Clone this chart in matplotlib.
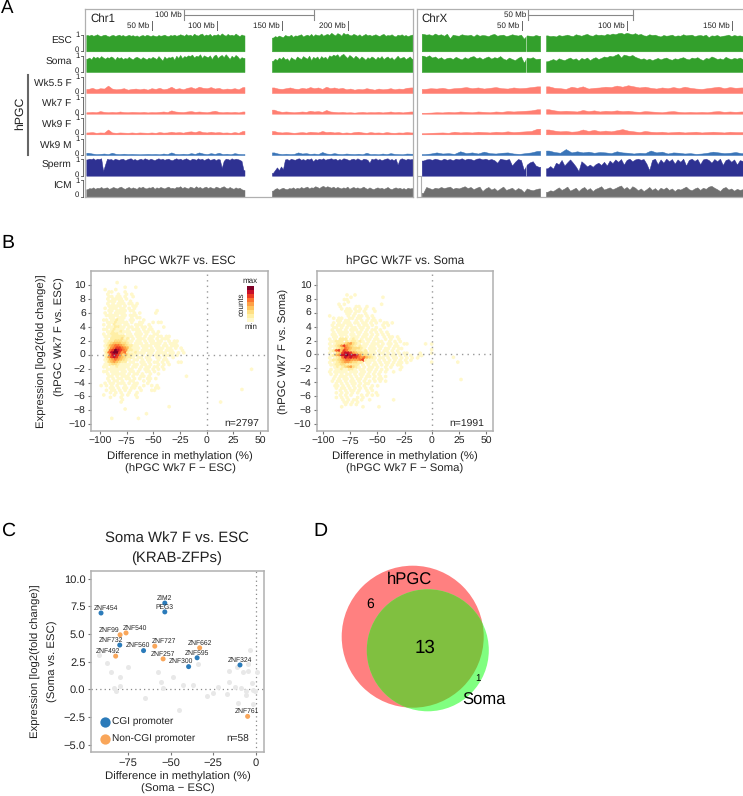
import numpy as np
import matplotlib
matplotlib.use('Agg')
import matplotlib.pyplot as plt
from matplotlib.colors import ListedColormap
from matplotlib.patches import Circle

plt.rcParams['font.family'] = ['Liberation Sans', 'DejaVu Sans']
plt.rcParams['text.hinting'] = 'no_hinting'
W, H = 743, 796
TXT = '#222222'
GR = '#B0B0B0'

# ---------- Panel A data (methylation level, percent, per genome bin)
TRACK_NAMES = ['ESC', 'Soma', 'Wk5.5 F', 'Wk7 F', 'Wk9 F', 'Wk9 M', 'Sperm', 'ICM']
TRACK_COLORS = ['#33A02C', '#33A02C', '#FF7F72', '#FF7F72', '#FF7F72', '#3A75B8', '#2E3192', '#707070']

ESC_1L = [88,85,90,84,87,92,85,83,88,90,84,80,86,89,83,86,90,84,88,82,85,89,84,87,82,86,79,85,88,83,89,86,82,87,84,81,88,84,86,90,
          84,82,88,85,90,84,87,92,88,84,93,86,90,83,95,88,85,92,96,84,91,87,94,82,90,88,93,85,97,89,84,94,87,90,85,96,88,82,91,86]
ESC_1R = [74,82,78,85,80,76,88,84,82,90,78,86,84,88,92,80,86,90,84,94,82,92,88,86,96,84,90,94,88,100,92,86,98,94,84,100,92,96,88,86,
          94,90,84,92,82,88,94,86,90,84,88,92,86,83,90,94,84,88,86,92,84,80,90,86,92,84,88,82,86,90]
ESC_XL = [94,90,92,86,96,88,92,84,95,70,90,86,84,92,88,86,90,80,92,84,88,86,82,90,94,84,88,90,82,86,92,88,85,90,68,86,84,82,88,84]
ESC_XR = [86,82,84,80,88,84,86,90,85,82,92,88,84,90,94,86,84,92,88,90,86,94,90,96,92,98,100,94,100,96,92,98,90,94,86,84,92,88,90,84,
          80,88,84,86,90,82,86,84,92,86,88,90,82,86,88,84,90,76,86,84,88,80,84,86,90,82,88,84,86,82]
SOMA_1L = [72,78,68,84,76,82,74,86,78,72,80,76,84,78,66,82,74,80,70,76,72,82,74,68,78,82,76,70,80,74,68,78,72,82,76,70,86,74,62,84,
           72,80,78,84,66,88,76,92,74,86,82,90,86,94,78,88,84,96,76,90,84,80,90,70,88,94,76,86,92,80,96,84,70,88,78,92,84,70,80,76]
SOMA_1R = [60,72,64,78,70,82,68,74,60,80,72,66,84,76,70,86,78,72,88,64,82,74,84,68,86,76,82,70,90,84,94,88,96,80,92,98,86,76,92,84,
           74,88,80,70,84,76,66,80,72,84,78,68,82,74,86,70,78,84,72,80,66,76,88,74,78,82,70,76,84,72]
SOMA_XL = [88,82,90,78,84,72,80,68,76,78,70,82,74,68,80,72,82,86,74,80,70,78,84,72,80,76,86,72,66,78,70,64,76,84,50,78,74,80,70,72]
SOMA_XR = [58,64,70,62,74,68,64,72,78,68,74,62,76,70,78,64,74,80,70,76,84,80,88,84,92,98,78,94,90,86,92,82,76,70,74,66,72,64,70,76,
           68,74,78,70,66,74,70,76,80,72,68,78,74,80,70,64,76,72,84,78,70,74,68,82,74,70,76,72,78,70]
W55_1L = [22,28,20,26,24,40,24,20,22,26,18,22,24,20,24,18,26,22,28,20,24,34,22,26,20,28,32,24,34,28,26,32,24,28,20,24,22,26,20,32]
W55_1R = [30,24,22,26,30,24,22,28,24,32,26,30,22,34,26,30,24,28,20,24,18,22,20,26,22,18,24,20,22,26,20,24,22,28,30]
W55_XL = [22,26,24,28,22,26,28,32,26,30,24,28,32,26,24,30,26,28,32,36]
W55_XR = [36,28,26,22,34,28,36,24,28,30,34,32,40,34,42,36,30,34,28,24,30,26,32,26,34,28,24,22,26,30,34,26,32,28,30]
W7_1L = [8,10,8,14,10,8,10,8,12,9,8,10,9,8,10,7,9,8,10,12,9,18,12,10,9,12,14,10,12,10,8,12,16,10,8,10,8,10,7,12]
W7_1R = [22,14,10,12,10,8,10,12,10,16,12,14,10,20,12,10,8,10,7,8,6,8,10,7,9,8,10,7,9,12,8,10,7,10,12]
W7_XL = [5,6,8,7,10,8,12,10,8,12,10,8,12,10,14,12,14,16,18,24]
W7_XR = [24,18,14,16,14,12,20,14,18,12,16,14,18,14,16,12,10,14,12,10,8,12,14,10,8,10,8,10,8,12,14,10,12,10,12]
W9_1L = [10,12,8,10,9,26,10,8,10,9,8,10,8,10,9,8,10,8,12,9,10,14,10,12,9,14,16,12,18,12,10,14,10,12,9,10,8,12,8,18]
W9_1R = [18,12,10,12,10,8,10,12,9,14,12,10,18,12,14,10,12,8,10,8,12,14,10,8,12,9,10,8,12,9,8,10,9,12,10]
W9_XL = [6,8,9,10,8,14,10,12,10,14,12,10,14,12,16,12,14,16,18,30]
W9_XR = [26,20,16,18,14,16,26,18,24,16,20,16,22,28,20,16,12,18,14,12,14,10,12,14,10,12,14,10,12,14,12,10,14,12,12]
M9_1L = [12,8,5,6,8,5,12,6,5,7,5,6,5,4,5,6,5,6,4,8,5,14,6,5,7,5,10,6,14,8,5,10,6,12,5,7,4,10,6,5]
M9_1R = [14,8,5,7,5,6,14,8,10,6,8,5,16,8,6,10,6,5,8,6,5,7,4,12,5,6,4,8,5,10,6,5,4,8,7]
M9_XL = [5,8,14,8,10,6,20,10,14,8,18,10,8,12,14,8,6,10,14,22]
M9_XR = [24,16,12,32,14,20,14,18,12,16,14,10,20,14,12,8,12,10,24,14,18,8,14,12,8,10,6,8,12,18,14,10,12,16,10]
SP_1L = [88,92,90,94,86,92,90,94,25,60,92,88,90,84,92,88,86,90,92,84,88,92,94,86,90,84,88,92,86,94,90,86,92,88,84,90,94,88,92,86,
         90,92,86,84,90,94,88,92,86,90,94,88,84,92,90,86,94,88,92,84,90,94,86,88,92,84,90,88,42,80,92,90,86,94,88,92,90,86,80,30]
SP_1R = [15,30,45,30,50,35,88,90,84,92,88,86,92,94,86,90,84,92,88,94,78,90,86,92,88,94,86,90,92,94,88,92,84,90,86,94,92,88,84,90,
         92,86,94,88,84,92,90,86,70,92,88,94,86,90,84,88,92,94,86,90,84,92,60,88,94,90,86,92,88,90]
SP_XL = [82,88,90,86,92,88,84,92,86,90,84,92,88,94,86,92,90,84,92,94,88,92,86,90,84,70,92,88,86,90,55,75,90,85,30,60,72,78,55,48]
SP_XR = [40,52,38,70,62,85,55,72,88,70,50,25,78,65,50,60,48,62,70,58,75,55,82,68,88,75,90,60,85,92,78,88,92,86,90,65,30,85,92,62,
         88,70,92,78,90,65,88,75,92,55,85,92,80,90,62,88,92,85,70,90,78,92,58,85,90,75,88,60,84,80]
ICM_1L = [40,46,44,50,42,48,46,52,44,48,50,42,46,52,48,44,50,54,46,42,48,52,44,50,46,42,52,48,54,46,44,50,48,54,42,50,46,52,48,44,
          50,54,46,48,44,52,50,56,46,52,48,44,54,50,46,56,48,52,44,50,54,46,52,48,44,54,50,46,52,56,48,44,52,46,42,50,44,48,40,36]
ICM_1R = [32,42,46,38,44,48,42,40,46,44,50,42,48,44,52,46,50,54,44,50,48,56,52,46,54,58,50,56,52,48,54,46,52,48,44,50,46,54,42,48,
          52,46,50,44,48,54,46,42,50,44,40,46,50,44,48,42,46,52,44,40,46,50,44,48,42,46,40,48,44,46]
ICM_XL = [20,52,46,40,48,44,52,46,50,54,42,48,44,50,56,46,52,40,48,54,30,44,52,38,46,32,44,54,36,42,48,34,46,40,24,44,38,34,40,44]
ICM_XR = [26,34,30,40,50,36,44,54,32,40,48,30,44,52,36,46,30,42,48,56,38,44,50,40,46,54,60,42,52,38,56,48,34,44,30,40,52,36,46,32,
          48,40,50,36,44,30,42,38,46,54,40,34,44,50,36,48,42,54,58,48,40,30,46,52,38,44,32,42,36,40]

CHR1_TRACKS = [(ESC_1L, ESC_1R), (SOMA_1L, SOMA_1R), (W55_1L, W55_1R), (W7_1L, W7_1R),
               (W9_1L, W9_1R), (M9_1L, M9_1R), (SP_1L, SP_1R), (ICM_1L, ICM_1R)]
CHRX_TRACKS = [(ESC_XL, ESC_XR), (SOMA_XL, SOMA_XR), (W55_XL, W55_XR), (W7_XL, W7_XR),
               (W9_XL, W9_XR), (M9_XL, M9_XR), (SP_XL, SP_XR), (ICM_XL, ICM_XR)]

# ---------- Panel B data: density level (1-9, '.' empty) on a hexagonal lattice, one string per row
HEX_ESC = [
"......1",
"",
".........1...1",
".1...1",
"...11....1",
"..1...1..1.1",
"...11.11.1..1",
"..1.1111.1",
"...111.11..1",
"..1.1.111.11.1",
"...11111.1..11",
".1.111.11.1.1",
"...11.1111.11........1",
".1.1.1111...1.1.....1",
"..11111.11.111",
"...11.111..1.11",
".11.11211..11...1",
"..11121111.1..11...1.11",
".1.1.211.11..111..1",
"..1112211.11.1.11.1....1",
".11.12111.1.111.1.11",
"..112112111..11.11.1.1",
".1.122211.11.111.1..11",
".11122222111.11.1.11.11.11",
"..1.2222312.1.111.11.1.111",
".11223332211.11.1.11.11..1.11",
"..1234443321.111.1.1111.1.111",
".1245665432211.1111.11.11.111",
"..1356776542111.11.1.111.11.1.1",
".1267987652211.11111.11.111...1",
"..268997562112111.11.1111.11.1.1",
".1268875342211.1.11.11.1111.1",
"..25787543221.11.11..11.1..1",
".1245654321.11.1.11..1.11",
"..13454322.11..11.1.11.1.1...11",
".1123321111.11.11.1..1.1.1",
".11.1121111.11.1.11.11.1",
"..1111111.11..1.11.1.1.1",
".11.111.11.11.1..11.1",
"..1.11111.1.11.1..1..1",
"...11.1.111.1..11.1.............1",
"..1.1.11.11.1.1..11.1",
"...1.11.1..11...1.1",
".1.11.111.1.11...1",
"1.1.1.1..1..11..1..1.1",
"...11.1.11.11.1.....11",
"..1.11.1.1.1...1...11",
"...1.1.1..1..1",
".1...1..1.1..1",
"...1...1.....1",
"........1",
".......1",
"",
".........................1",
".........1",
"",
".................1",
"",
"....1.........1"]
ESC_RIGHT_X = [13, 33, 42]
ESC_RIGHT_Y = [-6.8, -5.0, -2.1]

HEX_SOMA = [
"........1..1",
".........1...........1",
".......11",
"........1",
".....1.1.............1",
".....1.....11..1",
"......1.11.1.1.1..1",
".......111.11.1...1",
"........11.1...1",
".1......1.1.11.1.1",
"...1.11..11.11..1.1",
"....11.11..1.1.1.11.1",
"...1.1.111.11.11.1.1..11.1",
"..1.111.11..1.11.1...1.1",
"...11.1.1.11.11.1..1..1",
"..1.11.1.111.1.1.11.1",
"...1.1111.1.11.1.1.1.1.1",
"..11.111.11.1.11.1.1.1.1",
"...11.1.1.111.11.1.1..1.11.1",
".1.1.222.121.1.11.11..1.1..1",
"..11222.2122121.1.1.11..1.1.1",
".1.1222345321.11.111.1.11.1..11......1",
"..11235754321211.11.11..1.11",
".1.123465433321.111.1.11.1.11",
"..12674764332212.11.1.11.1.1",
".1.1347887543322111.11.1.1.1.11....1",
"..12458898887533221.1.11.11.1.1.1..11",
".1.1236878776564321.11.1.11.1.1.1.1",
"..12234566555672111.1.1.1.1.1.1.1",
".1.12345543322.11.1.1.11.1.11.1",
"..11223322222.1.1.11.1.1.1.11",
"...1212345321.1.11.1..1.1...1",
"..1.11211221.11.11.1.1.1....1",
".1.11111.111.11.1.1.1.1..1",
"..1.1.1.11.1.11.1.1.1",
"...1.111.1.1.1.11.1.1.1",
"...1.1.11.1.11.1..1.11",
"..1.11.1.11.1.1.1.1.1.1",
"....1.1.1.11.1.11",
"...11.1.1.1.1.1..1.1",
"....1.11.1.1.1.1.1",
".....1.1.11.1..1.1",
"....1.1.1.1.1...1..1",
".....1.1.1...1.1.1.1",
"....1.1.1...1.1",
"......1.1.11.1..1........1",
".......11.1.1",
".......1.1.1",
"......1.......1.....1"]
SOMA_RIGHT_X = [0, 0, 0, 0, 20, 24, 27]
SOMA_RIGHT_Y = [1.5, 0.7, 0.2, -1.1, -0.4, -1.1, -3.6]

LEVEL_COLORS = ['#FFF8CB', '#FFEFA6', '#FEDF85', '#FEC45F', '#FDA046', '#FC7430', '#EB3C23', '#C8102A', '#7F0026']

# ---------- Panel C data
GENE_NAMES = ['ZNF454', 'ZIM2', 'PEG3', 'ZNF732', 'ZNF560', 'ZNF595', 'ZNF300', 'ZNF324',
              'ZNF99', 'ZNF540', 'ZNF727', 'ZNF662', 'ZNF492', 'ZNF257', 'ZNF761']
GENE_X = [-91, -53.5, -53.5, -80, -66, -34.5, -39.5, -9.3, -79.8, -76.3, -59.4, -33, -82.4, -54.5, -4.8]
GENE_Y = [6.9, 7.8, 7.0, 4.0, 3.5, 2.85, 2.05, 2.2, 4.93, 5.1, 3.9, 3.75, 3.0, 2.75, -2.45]
GENE_CGI = [1, 1, 1, 1, 1, 1, 1, 1, 0, 0, 0, 0, 0, 0, 0]
LABEL_DX = [5, 0, 0, -8.3, -5.7, 0, -7.3, 0, -11, 9, 9, 0, -7.7, 0, -0.3]
LABEL_DY = [5, 5, 5, 5, 5.3, 5, 5.3, 5, 5, 5, 4.7, 5, 5, 5, 5]
OTHER_X = [-92, -87.5, -85, -80, -83.5, -82, -80, -75, -57.5, -56, -54.5, -65, -48.5, -43, -37, -34, -45, -28.5, -25,
           -22.5, -17, -15.5, -15.5, -12.5, -11, -10.5, -8.5, -7.5, -6, -6, -4.5, -4.5, -3.5, -2.3, -1.5, -0.3, -1.5, 0.5]
OTHER_Y = [3.1, 2.35, 1.6, 1.1, 0.1, -0.2, 0.3, 2.0, 1.6, 0.65, 0.1, -0.8, 1.1, 0.4, 0.4, 2.3, -1.9, -0.65, -0.35,
           0.25, -0.45, 0.7, 1.65, 0.2, 2.0, -1.2, 0.1, 1.6, -0.2, -0.5, 2.3, 1.65, 3.55, 0.55, -0.1, -0.2, -1.3, 1.55]

# ---------- Panel D data
VENN_ONLY_A, VENN_BOTH, VENN_ONLY_B = 6, 13, 1

fig = plt.figure(figsize=(W / 100, H / 100), dpi=100)
fig.patch.set_facecolor('white')


def px_axes(x0, y0, x1, y1, **kw):
    return fig.add_axes([x0 / W, 1 - y1 / H, (x1 - x0) / W, (y1 - y0) / H], **kw)


over = px_axes(0, 0, W, H, zorder=5)
over.set_xlim(0, W)
over.set_ylim(H, 0)
over.axis('off')
over.patch.set_alpha(0)


def T(x, y, s, size=7.5, ha='center', va='center', rot=0, color=TXT):
    over.text(x, y, s, fontsize=size, ha=ha, va=va, rotation=rot, color=color)


# ---------- Panel A
BASES = [51.3, 72, 93, 113.7, 134.3, 155, 175.7, 196.6]
UNIT = 18.5


def chrom_axes(x0, x1, xlim, segs, tracks, ticks, bar, barlabel):
    ax = px_axes(x0, 9, x1, 197)
    ax.set_xlim(*xlim)
    ax.set_ylim(197, 9)
    ax.set_xticks([])
    ax.set_yticks([])
    for s in ax.spines.values():
        s.set_color(GR)
        s.set_linewidth(0.9)
    mb = (xlim[1] - xlim[0]) / (x1 - x0)
    for track, base, col in zip(tracks, BASES, TRACK_COLORS):
        for vals, (a, b) in zip(track, segs):
            v = np.array(vals, dtype=float)
            step = (b - a) / len(v)
            xs = np.r_[a, a + step * (np.arange(len(v)) + 0.5), b]
            ys = np.r_[v[0], v, v[-1]]
            ax.fill_between(xs, base - ys / 100 * UNIT, base, color=col, lw=0.35)
    ax.plot(bar, [14.7, 14.7], color='#888888', lw=0.8)
    for v in bar:
        ax.plot([v, v], [10, 20], color='#888888', lw=0.8)
    ax.text(bar[0] - 2 * mb, 14.7, barlabel, fontsize=5.8, ha='right', va='center', color=TXT)
    for t in ticks:
        ax.plot([t, t], [21, 30], color='#666666', lw=0.7)
        ax.text(t - 2.2 * mb, 26, f'{t} Mb', fontsize=5.8, ha='right', va='center', color=TXT)
    return ax


chr1 = chrom_axes(85, 412.7, (-1.0, 249.7), [(0, 121), (142, 249.7)], CHR1_TRACKS,
                  [50, 100, 150, 200], (74.5, 174), '100 Mb')
chrx = chrom_axes(416.7, 744, (-0.1, 155.8), [(2.3, 58.7), (61.5, 155.8)], CHRX_TRACKS,
                  [50, 100, 150], (52.9, 102.8), '50 Mb')
chrx.vlines(52, 33, 73, color='white', lw=0.6, alpha=0.6)
chrx.vlines(52, 158, 176, color='white', lw=0.6, alpha=0.6)
chrx.plot([-0.1, 2], [175.5, 175.5], color=GR, lw=0.8)
chrx.plot([2, 2], [175.5, 197], color=GR, lw=0.8)
T(90.5, 18.5, 'Chr1', 8.3, ha='left')
T(421, 18.5, 'ChrX', 8.3, ha='left')

for name, base in zip(TRACK_NAMES, BASES):
    T(71.5, base - 10, name, 7.3, ha='right')
    T(79.5, base - 16, '1', 5.6, ha='right')
    T(79.5, base - 1.3, '0', 5.6, ha='right')
    over.plot([82.7, 82.7], [base - 16.5, base], color='#555555', lw=0.6)
    over.plot([81, 82.7], [base - 16.5, base - 16.5], color='#555555', lw=0.6)
    over.plot([81, 82.7], [base, base], color='#555555', lw=0.6)
over.plot([28, 28], [74.7, 155.3], color='#666666', lw=1.5)
T(20, 113, 'hPGC', 8.8, rot=90)


# ---------- Panel B
level_cmap = ListedColormap(LEVEL_COLORS)


def style(ax):
    for s in ax.spines.values():
        s.set_color(GR)
        s.set_linewidth(1.1)
    ax.tick_params(length=2.5, width=0.8, color='#777777', labelsize=7.5, labelcolor=TXT, pad=1.5)


def hex_panel(box, xlim, ylim, rows, x0, y0, dx, dy, right_x, right_y):
    ax = px_axes(*box)
    ax.set_xlim(*xlim)
    ax.set_ylim(*ylim)
    style(ax)
    xs, ys, lv = [], [], []
    for r, row in enumerate(rows):
        for c, ch in enumerate(row):
            if ch != '.':
                xs.append(x0 + dx * (c + 0.5 * (r % 2)))
                ys.append(y0 - dy * r)
                lv.append(int(ch))
    xs += list(right_x)
    ys += list(right_y)
    lv += [1] * len(right_x)
    ax.scatter(xs, ys, c=lv, cmap=level_cmap, vmin=0.5, vmax=9.5, marker='h', s=8.5, linewidths=0, zorder=2)
    ax.axvline(0, color='#999999', lw=1, ls=(0, (1, 3)), zorder=3)
    ax.axhline(0, color='#999999', lw=1, ls=(0, (1, 3)), zorder=3)
    ax.set_xticks([-100, -75, -50, -25, 0, 25, 50])
    ax.set_yticks([-10, -8, -6, -4, -2, 0, 2, 4, 6, 8, 10])
    return ax


hex_panel((91.3, 271, 268.3, 431.3), (-108.2, 57.7), (-11.0, 12.0), HEX_ESC, -99, 10.34, 2.5, 0.336, ESC_RIGHT_X, ESC_RIGHT_Y)
hex_panel((317, 271, 493, 431), (-105.5, 56.4), (-11.0, 12.0), HEX_SOMA, -97.5, 8.56, 2.45, 0.335, SOMA_RIGHT_X, SOMA_RIGHT_Y)

T(180, 261, 'hPGC Wk7F vs. ESC', 8.5)
T(180, 456.7, 'Difference in methylation (%)', 8.2)
T(180, 469, '(hPGC Wk7 F \u2212 ESC)', 8.2)
T(42.3, 351, 'Expression [log2(fold change)]', 8.2, rot=90)
T(60, 337, '(hPGC Wk7 F vs. ESC)', 8.2, rot=90)
T(259.3, 424, 'n=2797', 7.5, ha='right')
T(405, 261, 'hPGC Wk7F vs. Soma', 8.5)
T(405, 456.7, 'Difference in methylation (%)', 8.2)
T(405, 469, '(hPGC Wk7 F \u2212 Soma)', 8.2)
T(284.3, 351, '(hPGC Wk7 F vs. Soma)', 8.2, rot=90)
T(484.3, 424, 'n=1991', 7.5, ha='right')

cb = px_axes(247, 286, 254, 322, zorder=6)
cb.imshow(np.arange(9, 0, -1).reshape(-1, 1), cmap=level_cmap, vmin=0.5, vmax=9.5, aspect='auto')
cb.axis('off')
T(250.5, 281, 'max', 5.8)
T(250.5, 327, 'min', 5.8)
T(242, 304, 'counts', 5.8, rot=90)

# ---------- Panel C
axc = px_axes(91, 571, 264.3, 752.3)
axc.set_xlim(-96.9, 5)
axc.set_ylim(-5.7, 10.7)
style(axc)
axc.tick_params(labelsize=8)
axc.set_xticks([-75, -50, -25, 0])
axc.set_yticks([-5, -2.5, 0, 2.5, 5, 7.5, 10])
axc.axhline(0, color='#888888', lw=0.9, ls=(0, (1, 2.5)), zorder=1)
axc.axvline(0, color='#888888', lw=0.9, ls=(0, (1, 2.5)), zorder=1)
axc.scatter(OTHER_X, OTHER_Y, s=13, color='#E8E8E8', linewidths=0, zorder=2)
CGI_COL, NON_COL = '#2B7BBA', '#F9A65A'
gene_cols = [CGI_COL if g else NON_COL for g in GENE_CGI]
axc.scatter(GENE_X, GENE_Y, s=13, c=gene_cols, linewidths=0, zorder=3)
for n, x, y, dx, dy in zip(GENE_NAMES, GENE_X, GENE_Y, LABEL_DX, LABEL_DY):
    axc.annotate(n, (x, y), xytext=(dx, dy), textcoords='offset pixels', fontsize=4.9, ha='center', va='center', color=TXT, zorder=4)
over.scatter([105], [722.3], s=55, color=CGI_COL, linewidths=0)
over.scatter([105], [739], s=55, color=NON_COL, linewidths=0)
T(112.5, 722.3, 'CGI promoter', 7.3, ha='left')
T(112.5, 739, 'Non-CGI promoter', 7.3, ha='left')
T(249.3, 739.3, 'n=58', 7.3, ha='right')
T(177, 539.3, 'Soma Wk7 F vs. ESC', 10.7)
T(177, 557.7, '(KRAB-ZFPs)', 10.7)
T(177.7, 776.7, 'Difference in methylation (%)', 8.2)
T(177.7, 789, '(Soma \u2212 ESC)', 8.2)
T(35.7, 661, 'Expression [log2(fold change)]', 8.2, rot=90)
T(53.3, 661, '(Soma vs. ESC)', 8.2, rot=90)

# ---------- Panel D
ca = Circle((412.7, 636.7), 71, color='#FF8080', lw=0)
cb2 = Circle((427.8, 650.3), 61, color='#80FF80', lw=0)
cc = Circle((427.8, 650.3), 61, color='#80C040', lw=0)
over.add_patch(ca)
over.add_patch(cb2)
over.add_patch(cc)
cc.set_clip_path(Circle((412.7, 636.7), 71, transform=over.transData))
T(409.3, 579.3, 'hPGC', 12, color='black')
T(484, 700.7, 'Soma', 12, color='black')
T(425, 647.7, str(VENN_BOTH), 13.5, color='black')
T(370, 604, str(VENN_ONLY_A), 10, color='black')
T(478, 678.3, str(VENN_ONLY_B), 7, color='black')

# ---------- Panel letters
T(0.5, 8.5, 'A', 13.5, ha='left', color='black')
T(1, 243, 'B', 14, ha='left', color='black')
T(1, 531, 'C', 14, ha='left', color='black')
T(313, 531, 'D', 14, ha='left', color='black')

fig.savefig('out.png', dpi=100, facecolor='white')
